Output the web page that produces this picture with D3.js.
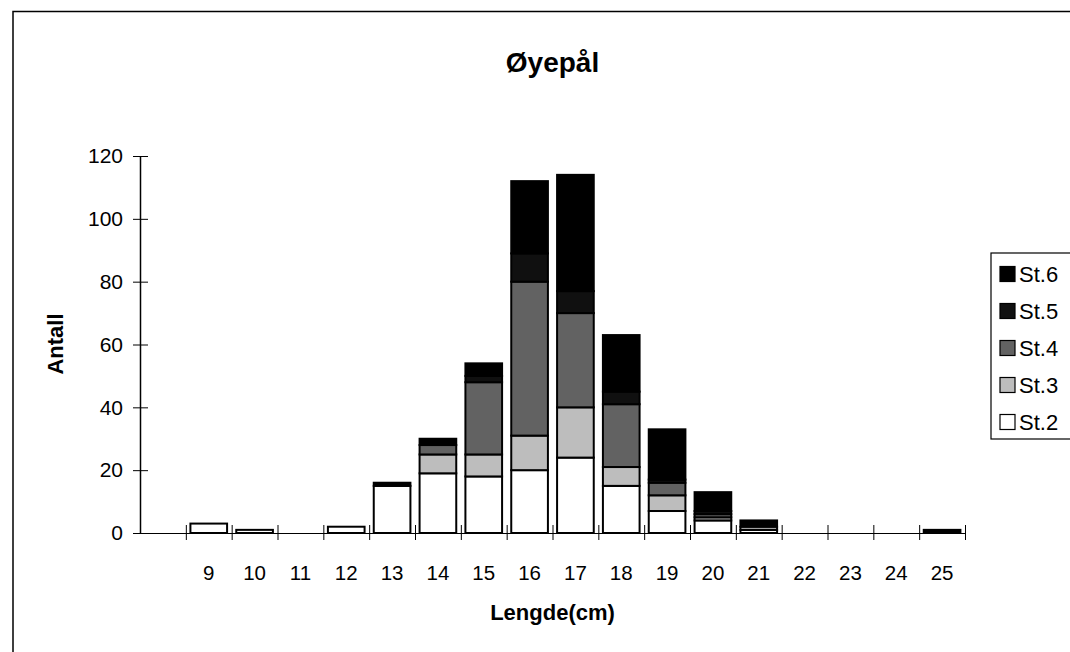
<!DOCTYPE html>
<html lang="no">
<head>
<meta charset="UTF-8">
<title>Øyepål</title>
<style>
  body { margin: 0; background: #fff; }
  svg { display: block; font-family: Arial, "Liberation Sans", sans-serif; }
</style>
<script src="https://d3js.org/d3.v7.min.js"></script>
</head>
<body>
<svg width="1070" height="652"></svg>
<script>
// length classes (first slot is an empty category in the original sheet)
const lengths = ["", "9", "10", "11", "12", "13", "14", "15", "16", "17", "18", "19", "20", "21", "22", "23", "24", "25"];
const st2 = [0, 3, 1, 0, 2, 15, 19, 18, 20, 24, 15, 7, 4, 1, 0, 0, 0, 0];
const st3 = [0, 0, 0, 0, 0, 0, 6, 7, 11, 16, 6, 5, 1, 1, 0, 0, 0, 0];
const st4 = [0, 0, 0, 0, 0, 0, 3, 23, 49, 30, 20, 4, 1, 0, 0, 0, 0, 0];
const st5 = [0, 0, 0, 0, 0, 0, 0, 2, 9, 7, 4, 1, 1, 0, 0, 0, 0, 0];
const st6 = [0, 0, 0, 0, 0, 1, 2, 4, 23, 37, 18, 16, 6, 2, 0, 0, 0, 1];
const stations = ["St.2", "St.3", "St.4", "St.5", "St.6"];
const yTicks = [0, 20, 40, 60, 80, 100, 120];

const colors = {"St.2": "#ffffff", "St.3": "#bdbdbd", "St.4": "#626262", "St.5": "#101010", "St.6": "#000000"};

const rows = lengths.map((l, i) => ({
  len: l, "St.2": st2[i], "St.3": st3[i], "St.4": st4[i], "St.5": st5[i], "St.6": st6[i]
}));

const svg = d3.select("svg");
const plotL = 140, plotR = 965, plotT = 156, plotB = 533;

// outer frame
svg.append("path")
  .attr("d", `M13,660 L13,11.5 L1075,11.5`)
  .attr("fill", "none").attr("stroke", "#000").attr("stroke-width", 1.5);

const x = d3.scaleBand().domain(lengths).range([plotL, plotR]).paddingInner(0.2).paddingOuter(0.1);
const xEdge = d3.scaleLinear().domain([0, lengths.length]).range([plotL, plotR]);
const y = d3.scaleLinear().domain([0, 120]).range([plotB, plotT]);

// y axis
const yAxis = svg.append("g")
  .attr("transform", `translate(${plotL},0)`)
  .call(d3.axisLeft(y).tickValues(yTicks).tickSizeInner(7).tickSizeOuter(0).tickPadding(10));
yAxis.selectAll(".tick line").attr("x1", 8);
yAxis.selectAll("text").attr("font-size", 21).attr("fill", "#000");
yAxis.select(".domain").attr("stroke-width", 1.5);

// x axis line + boundary ticks
const xAxis = svg.append("g")
  .attr("transform", `translate(0,${plotB})`)
  .call(d3.axisBottom(xEdge).tickValues(d3.range(1, lengths.length + 1)).tickSizeInner(7).tickSizeOuter(0).tickFormat(""));
xAxis.selectAll(".tick line").attr("y1", -8);

// category labels
const xLab = svg.append("g")
  .attr("transform", `translate(0,${plotB})`)
  .call(d3.axisBottom(x).tickSize(0).tickPadding(32));
xLab.select(".domain").remove();
xLab.selectAll("text").attr("font-size", 20.5).attr("fill", "#000");

// stacked bars
const series = d3.stack().keys(stations)(rows);
svg.append("g").selectAll("g")
  .data(series)
  .join("g")
  .attr("fill", d => colors[d.key])
  .selectAll("rect")
  .data(d => d.filter(s => s[1] - s[0] > 0))
  .join("rect")
  .attr("x", d => x(d.data.len))
  .attr("width", x.bandwidth())
  .attr("y", d => y(d[1]))
  .attr("height", d => y(d[0]) - y(d[1]))
  .attr("stroke", "#000")
  .attr("stroke-width", 2);

// titles
svg.append("text")
  .attr("x", (plotL + plotR) / 2).attr("y", 72)
  .attr("text-anchor", "middle")
  .attr("font-size", 28).attr("font-weight", "bold")
  .text("Øyepål");

svg.append("text")
  .attr("x", (plotL + plotR) / 2).attr("y", 620)
  .attr("text-anchor", "middle")
  .attr("font-size", 22).attr("font-weight", "bold")
  .text("Lengde(cm)");

svg.append("text")
  .attr("transform", "translate(63,344) rotate(-90)")
  .attr("text-anchor", "middle")
  .attr("font-size", 22).attr("font-weight", "bold")
  .text("Antall");

// legend
const leg = svg.append("g");
leg.append("rect")
  .attr("x", 991).attr("y", 253).attr("width", 100).attr("height", 186)
  .attr("fill", "#fff").attr("stroke", "#000").attr("stroke-width", 1.2);
const items = stations.slice().reverse();
const legY = d3.scalePoint().domain(items).range([274, 422]);
const li = leg.selectAll("g.item")
  .data(items)
  .join("g")
  .attr("class", "item")
  .attr("transform", d => `translate(1000,${legY(d)})`);
li.append("rect")
  .attr("x", 0).attr("y", -7.5).attr("width", 15).attr("height", 15)
  .attr("fill", d => colors[d]).attr("stroke", "#000").attr("stroke-width", 1.2);
li.append("text")
  .attr("x", 19).attr("dy", "0.36em")
  .attr("font-size", 22)
  .text(d => d);
</script>
</body>
</html>
